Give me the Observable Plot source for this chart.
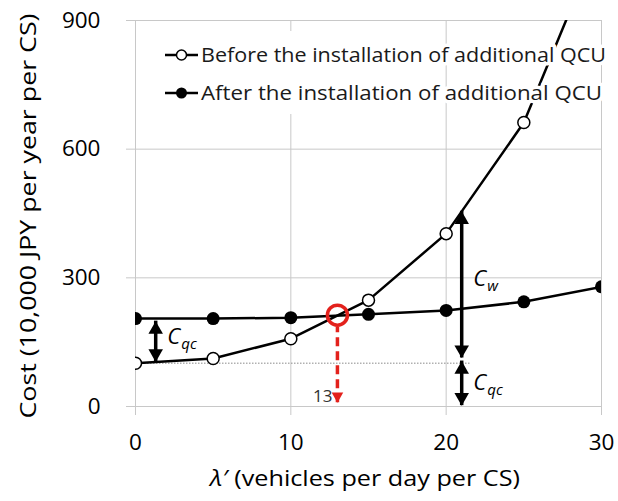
<!DOCTYPE html>
<html>
<head>
<meta charset="utf-8">
<script src="https://cdn.jsdelivr.net/npm/d3@7"></script>
<script src="https://cdn.jsdelivr.net/npm/@observablehq/plot@0.6"></script>
<style>
  body { margin: 0; background: #fff; }
  #chart svg { display: block; }
</style>
</head>
<body>
<div id="chart"></div>
<script>
// Arrival rate per charging station (vehicles per day per CS)
const lambda = [0, 5, 10, 15, 20, 25, 30];
// Total cost (10,000 JPY per year per CS)
const costBefore = [101, 112, 158, 248, 403, 662, 1100];
const costAfter = [205, 205, 207, 215, 224, 244, 279];

const xTicks = [0, 10, 20, 30];
const yTicks = [0, 300, 600, 900];
const seriesNames = [
  "Before the installation of additional QCU",
  "After the installation of additional QCU"
];

// Break-even arrival rate where the two cost curves cross
const breakEvenX = [13];
const breakEvenY = [213];
const breakEvenArrowEnd = [9];

// Cost level of the existing charger (dotted reference line)
const baseCost = [101];
const baseCostEnd = [21.6];

// Double-headed annotation arrows: position, lower tip, upper tip
const arrowX = [1.3, 21, 21];
const arrowLo = [104, 113, 2];
const arrowHi = [199, 455, 106];
// Annotation labels beside the arrows
const labelX = [2.05, 21.75, 21.75];
const labelY = [162, 298, 54];
const labelSub = ["qc", "w", "qc"];

const before = lambda.map((x, i) => ({x, y: costBefore[i]}));
const after = lambda.map((x, i) => ({x, y: costAfter[i]}));
const arrows = arrowX.map((x, i) => ({x, lo: arrowLo[i], hi: arrowHi[i]}));
const labels = labelX.map((x, i) => ({x, y: labelY[i], sub: labelSub[i]}));
const breakEven = breakEvenX.map((x, i) => ({x, y: breakEvenY[i], end: breakEvenArrowEnd[i]}));

const FONT = "'Open Sans', Lato, sans-serif";
const GRID = "#c8c8c8";
const RED = "#e3211c";

const chart = Plot.plot({
  width: 618,
  height: 501,
  marginLeft: 135,
  marginRight: 17,
  marginTop: 20,
  marginBottom: 95,
  style: {fontFamily: FONT, fontSize: "22px", background: "#fff", color: "#000"},
  x: {domain: [0, 30]},
  y: {domain: [0, 900]},
  marks: [
    Plot.gridX(xTicks, {stroke: GRID, strokeOpacity: 1, strokeWidth: 1}),
    Plot.gridY(yTicks, {stroke: GRID, strokeOpacity: 1, strokeWidth: 1}),
    // short tick extensions outside the frame
    Plot.axisX(xTicks, {tickSize: 9, stroke: GRID, strokeOpacity: 1, tickFormat: () => "", label: null}),
    Plot.axisY(yTicks, {tickSize: 9, stroke: GRID, strokeOpacity: 1, tickFormat: () => "", label: null}),
    // tick labels
    Plot.axisX(xTicks, {tickSize: 0, tickPadding: 28, fontSize: 22.5, label: null}),
    Plot.axisY(yTicks, {tickSize: 0, tickPadding: 35, fontSize: 22.5, label: null}),

    Plot.ruleY(baseCost, {y: d => d, x1: 0, x2: baseCostEnd[0], stroke: "#8a8a8a", strokeWidth: 1, strokeDasharray: "1.5,1.5"}),

    Plot.line(before, {x: "x", y: "y", stroke: "#000", strokeWidth: 2.5, clip: true}),
    Plot.line(after, {x: "x", y: "y", stroke: "#000", strokeWidth: 2.5, clip: true}),
    Plot.dot(before, {x: "x", y: "y", r: 6, fill: "#fff", stroke: "#000", strokeWidth: 1.5, clip: true}),
    Plot.dot(after, {x: "x", y: "y", r: 6.5, fill: "#000", stroke: null, clip: true}),

    // annotation arrows
    Plot.ruleX(arrows, {x: "x", y1: "lo", y2: "hi", stroke: "#000", strokeWidth: 3.5}),
    Plot.dot(arrows, {x: "x", y: "hi", symbol: "triangle", r: 5.4, fill: "#000", stroke: null, dy: 8.4}),
    Plot.dot(arrows, {x: "x", y: "lo", symbol: "triangle", r: 5.4, fill: "#000", stroke: null, rotate: 180, dy: -8.4}),
    Plot.text(labels, {x: "x", y: "y", text: () => "C", fontStyle: "italic", fontSize: 22, textAnchor: "start", fill: "#000"}),
    Plot.text(labels, {x: "x", y: "y", text: "sub", fontStyle: "italic", fontSize: 15, textAnchor: "start", dx: 14, dy: 7, fill: "#000"}),

    // break-even marker with dashed drop line
    Plot.ruleX(breakEven, {x: "x", y1: "end", y2: d => d.y - 28, stroke: RED, strokeWidth: 3.5, strokeDasharray: "9,5"}),
    Plot.dot(breakEven, {x: "x", y: "end", symbol: "triangle", r: 4.3, fill: RED, stroke: null, rotate: 180, dy: -6.7}),
    Plot.dot(breakEven, {x: "x", y: "y", r: 10, fill: "none", stroke: RED, strokeWidth: 3.5}),
    Plot.text(breakEven, {x: "x", y: d => d.end + 14, text: d => String(d.x), textAnchor: "end", dx: -5, fontSize: 17, fill: "#333"})
  ]
});

document.getElementById("chart").append(chart);

const svg = d3.select(chart);

// Legend (drawn over the plot area in the upper part of the frame)
const legend = svg.append("g")
  .attr("font-family", FONT)
  .attr("font-size", 20)
  .attr("text-anchor", "start");
legend.append("rect").attr("x", 158).attr("y", 31).attr("width", 282).attr("height", 83).attr("fill", "#fff");
const rowsY = [55, 93];
const rowsWidth = [405, 401];
seriesNames.forEach((name, i) => {
  const g = legend.append("g").attr("transform", `translate(0,${rowsY[i]})`);
  g.append("text")
    .attr("x", 201)
    .attr("dy", "0.35em")
    .attr("fill", "#1a1a1a")
    .attr("stroke", "#fff")
    .attr("stroke-width", 7)
    .attr("stroke-linejoin", "round")
    .attr("paint-order", "stroke")
    .attr("textLength", rowsWidth[i])
    .attr("lengthAdjust", "spacingAndGlyphs")
    .text(name);
  g.append("line").attr("x1", 165).attr("x2", 198).attr("stroke", "#000").attr("stroke-width", 2.5);
  if (i === 0) {
    g.append("circle").attr("cx", 181.5).attr("r", 5).attr("fill", "#fff").attr("stroke", "#000").attr("stroke-width", 1.5);
  } else {
    g.append("circle").attr("cx", 181.5).attr("r", 5.5).attr("fill", "#000");
  }
});

// Axis titles
svg.append("text")
  .attr("x", 365).attr("y", 486)
  .attr("text-anchor", "middle")
  .attr("font-family", FONT).attr("font-size", 22)
  .attr("textLength", 310)
  .attr("lengthAdjust", "spacingAndGlyphs")
  .call(t => {
    t.append("tspan").attr("font-style", "italic").text("λ′");
    t.append("tspan").text(" (vehicles per day per CS)");
  });

svg.append("text")
  .attr("transform", "translate(29,216) rotate(-90)")
  .attr("text-anchor", "middle")
  .attr("dy", "0.35em")
  .attr("font-family", FONT).attr("font-size", 21)
  .attr("textLength", 405)
  .attr("lengthAdjust", "spacingAndGlyphs")
  .text("Cost (10,000 JPY per year per CS)");
</script>
</body>
</html>
